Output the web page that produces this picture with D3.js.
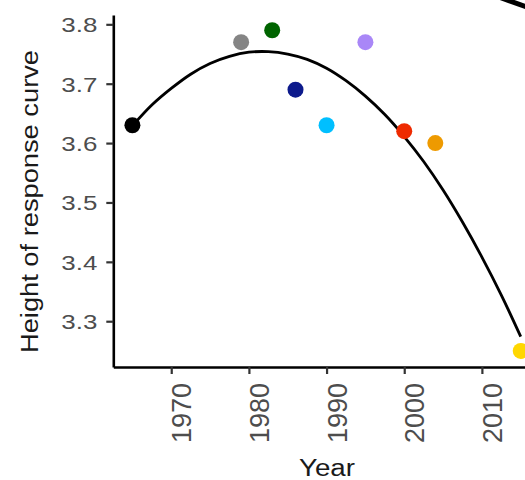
<!DOCTYPE html>
<html>
<head>
<meta charset="utf-8">
<script src="https://cdn.jsdelivr.net/npm/d3@7"></script>
<style>
  html, body { margin: 0; padding: 0; background: #fff; }
  svg { display: block; font-family: "Liberation Sans", Arial, sans-serif; }
</style>
</head>
<body>
<svg id="chart" width="525" height="480"></svg>
<script>
// Observed response-curve heights by survey year
const years  = [1965, 1979, 1983, 1986, 1990, 1995, 2000, 2004, 2015];
const values = [3.63, 3.77, 3.79, 3.69, 3.63, 3.77, 3.62, 3.60, 3.25];
const colors = ["#000000", "#858585", "#006400", "#0d1a8c", "#00bfff",
                "#a987f7", "#ee2a00", "#ee9a00", "#ffd700"];

// Fitted trend through the observations
const trendYears  = [1965, 1967.5, 1970, 1972.5, 1975, 1977.5, 1980, 1982.5, 1985, 1987.5,
                     1990, 1992.5, 1995, 1997.5, 2000, 2002.5, 2005, 2007.5, 2010, 2012.5, 2015];
const trendValues = [3.629, 3.664, 3.692, 3.716, 3.734, 3.746, 3.753, 3.754, 3.750, 3.741,
                     3.726, 3.705, 3.679, 3.648, 3.611, 3.569, 3.521, 3.467, 3.408, 3.344, 3.274];

// Pointer running off the upper-right corner
const pointerYears  = [2012.4, 2016.2];
const pointerValues = [3.845, 3.827];

const yTicks = [3.3, 3.4, 3.5, 3.6, 3.7, 3.8];
const xTicks = [1970, 1980, 1990, 2000, 2010];

const svg = d3.select("#chart");

const x = d3.scaleLinear().domain([1962.54, 2015.55]).range([113.3, 525]);
const y = d3.scaleLinear().domain([3.2229, 3.8157]).range([367, 15]);

// Trend line
const line = d3.line()
  .x((d, i) => x(trendYears[i]))
  .y(d => y(d))
  .curve(d3.curveCatmullRom.alpha(0.5));

svg.append("path")
  .datum(trendValues)
  .attr("d", line)
  .attr("fill", "none")
  .attr("stroke", "#000")
  .attr("stroke-width", 2.8);

// Observations
svg.append("g").selectAll("circle")
  .data(values)
  .join("circle")
  .attr("cx", (d, i) => x(years[i]))
  .attr("cy", d => y(d))
  .attr("r", 8)
  .attr("fill", (d, i) => colors[i]);

// Pointer segment
svg.append("path")
  .datum(pointerValues)
  .attr("d", d3.line().x((d, i) => x(pointerYears[i])).y(d => y(d)))
  .attr("stroke", "#000")
  .attr("stroke-width", 5)
  .attr("fill", "none");

// Y axis
const yAxis = svg.append("g")
  .attr("transform", `translate(${x.range()[0]},0)`)
  .call(d3.axisLeft(y).tickValues(yTicks).tickFormat(d3.format(".1f")).tickSize(7).tickSizeOuter(0).tickPadding(9));
yAxis.select(".domain").attr("stroke", "#000").attr("stroke-width", 2.6);
yAxis.selectAll(".tick line").attr("stroke", "#333").attr("stroke-width", 2.2);
yAxis.selectAll(".tick text")
  .attr("font-size", 20.5)
  .attr("fill", "#4d4d4d")
  .attr("dy", "0.36em")
  .attr("textLength", 36)
  .attr("lengthAdjust", "spacingAndGlyphs");

// X axis
const xAxis = svg.append("g")
  .attr("transform", `translate(0,${y.range()[0]})`)
  .call(d3.axisBottom(x).tickValues(xTicks).tickFormat(d3.format("d")).tickSize(7).tickSizeOuter(0));
xAxis.select(".domain").attr("stroke", "#000").attr("stroke-width", 2.6);
xAxis.selectAll(".tick line").attr("stroke", "#333").attr("stroke-width", 2.2);
xAxis.selectAll(".tick text")
  .attr("font-size", 27)
  .attr("fill", "#4d4d4d")
  .attr("text-anchor", "end")
  .attr("y", 0)
  .attr("dy", 0)
  .attr("transform", "translate(19.5,16) rotate(-90)");

// Axis titles
svg.append("text")
  .attr("x", 327)
  .attr("y", 476)
  .attr("text-anchor", "middle")
  .attr("font-size", 23.5)
  .attr("fill", "#1a1a1a")
  .attr("textLength", 56)
  .attr("lengthAdjust", "spacingAndGlyphs")
  .text("Year");

svg.append("text")
  .attr("transform", "translate(37.5,201.5) rotate(-90)")
  .attr("text-anchor", "middle")
  .attr("font-size", 23.5)
  .attr("fill", "#1a1a1a")
  .attr("textLength", 303)
  .attr("lengthAdjust", "spacingAndGlyphs")
  .text("Height of response curve");
</script>
</body>
</html>
